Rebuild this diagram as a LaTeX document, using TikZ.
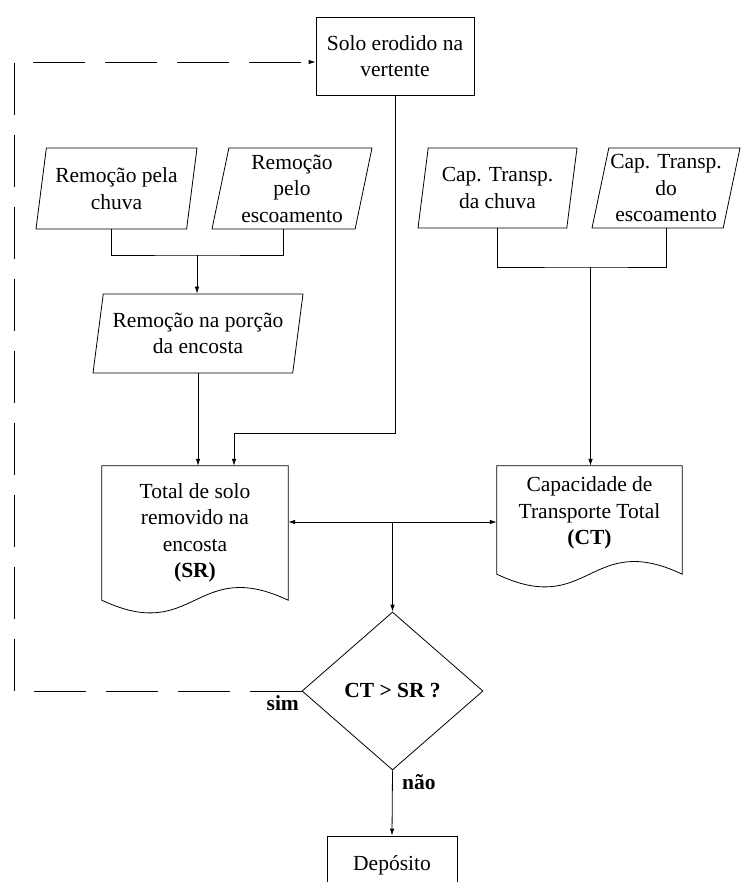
\documentclass[tikz,border=0pt]{standalone}
\usepackage{fontspec}
\setmainfont{Liberation Serif}
\usetikzlibrary{shapes.geometric,arrows.meta}

% outline of a "document" box: straight top and sides, wavy bottom
\newcommand\docoutline[2]{%
  \draw[conn] ([yshift=-#2]#1.south west) -- (#1.north west) -- (#1.north east)
    -- ([yshift=-#2]#1.south east)
    .. controls ([yshift=-#2+44pt]#1.south) and ([yshift=-#2-44pt]#1.south) ..
    ([yshift=-#2]#1.south west) -- cycle;}

\begin{document}
\begin{tikzpicture}[x=1pt,y=-1pt,
  every node/.style={font=\fontsize{21.5}{26.5}\selectfont, align=center, inner sep=0pt},
  lab/.style={font=\fontsize{21.5}{26.5}\selectfont\bfseries},
  conn/.style={line width=0.8pt},
  tip/.style={-{Latex[length=7pt,width=4.5pt]}},
  arr/.style={conn, tip},
  box/.style={draw, line width=0.8pt, rectangle},
  para/.style={draw, line width=0.8pt, trapezium, trapezium left angle=76,
    trapezium right angle=104, trapezium stretches body, minimum height=81pt},
  docbox/.style={rectangle},
  decision/.style={draw, line width=0.8pt, diamond, minimum width=181pt, minimum height=158pt},
  backline/.style={conn, dash pattern=on 52pt off 20pt},
]
\useasboundingbox (0,0) rectangle (740,882);

% top box
\node[box, minimum width=158pt, minimum height=78pt] (solo) at (395,56) {Solo erodido na\\vertente};

% input parallelograms
\node[para, minimum width=161pt] (p1) at (116.5,188.5) {Remoção pela\\chuva};
\node[para, minimum width=160pt] (p2) at (292,188.5) {Remoção\\pelo\\escoamento};
\node[para, minimum width=159pt, minimum height=80pt] (p4) at (497.5,188) {Cap. Transp.\\da chuva};
\node[para, minimum width=148pt, minimum height=80pt] (p5) at (666,188) {Cap. Transp.\\do\\escoamento};
\node[para, minimum width=210pt, minimum height=79pt] (p3) at (198,333.5) {Remoção na porção\\da encosta};

% document boxes
\node[docbox, minimum width=186pt, minimum height=134pt] (sr) at (195,533)
  {Total de solo\\removido na\\encosta\\\textbf{(SR)}};
\node[docbox, minimum width=185pt, minimum height=94pt] (ct) at (589.5,513)
  {Capacidade de\\Transporte Total\\\textbf{(CT)}};
\docoutline{sr}{0pt}
\docoutline{ct}{14pt}

% decision and result
\node[decision] (dia) at (392.5,691) {\textbf{CT > SR ?}};
\node[box, minimum width=130pt, minimum height=58pt] (dep) at (392,865) {Depósito};

% left inputs joined
\coordinate (jl) at (197,255);
\draw[conn] (p1.bottom side) |- (jl) -| (p2.bottom side);
\draw[arr] (jl) -- (jl |- p3.north);
\draw[arr] (p3.south) -- (p3.south |- sr.north);

% right inputs joined
\coordinate (jr) at (590.5,267);
\draw[conn] (p4.south) |- (jr) -| (p5.south);
\draw[arr] (jr) -- (jr |- ct.north);

% eroded soil into the total
\coordinate (bend) at (234,433);
\draw[arr] (solo.south) |- (bend) -- (bend |- sr.north);

% comparison
\coordinate (mid) at (392.5,522);
\draw[conn, {Latex[length=7pt,width=4.5pt]}-{Latex[length=7pt,width=4.5pt]}] (sr.east |- mid) -- (ct.west |- mid);
\draw[arr] (mid) -- (dia.north);
\draw[arr] (dia.south) -- (dep.north);

% loop back when transport capacity exceeds removal
\coordinate (lc) at (14,62);
\draw[backline, tip] (dia.west) -| (lc) -- (solo.west |- lc);

\node[lab, anchor=north east] (sim) at ([xshift=-2.5pt,yshift=-4.5pt]dia.west) {sim};
\node[lab, anchor=north west] (nao) at ([xshift=9.5pt,yshift=-3.6pt]dia.south) {não};
\end{tikzpicture}
\end{document}
